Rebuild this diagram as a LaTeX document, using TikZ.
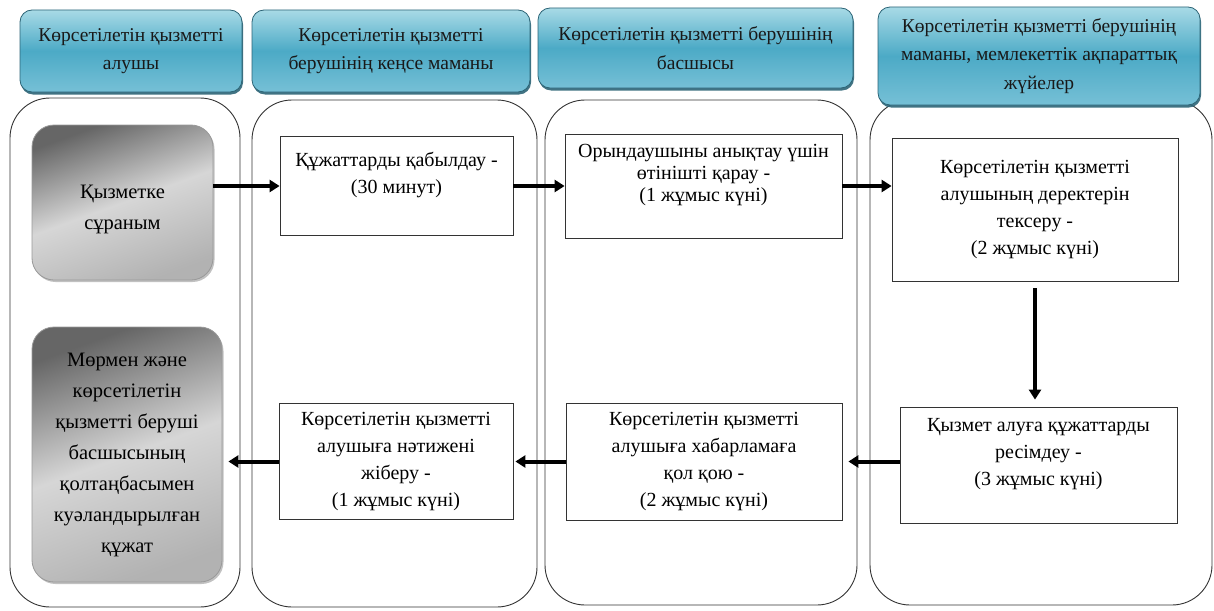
\documentclass[tikz,border=0pt]{standalone}
\usepackage{fontspec}
\setmainfont{Liberation Serif}
\usetikzlibrary{arrows.meta,shadows}

\definecolor{hdrlight}{RGB}{168,218,230}
\definecolor{hdrmid}{RGB}{76,170,198}
\definecolor{hdrlow}{RGB}{118,192,214}
\definecolor{hdrline}{RGB}{44,100,118}

\tikzset{
	lane/.style={draw=black!80, line width=0.9pt, rounded corners=40pt},
	header/.style={draw=hdrline, line width=0.8pt, rounded corners=12pt,
		top color=hdrlight, bottom color=hdrlow, middle color=hdrmid,
		drop shadow={shadow xshift=1pt, shadow yshift=-2.5pt, fill=hdrline, opacity=0.9},
		align=center, inner sep=0pt, text=black!90, font=\fontsize{19.5}{28.5}\selectfont},
	stepbox/.style={draw=black!80, line width=0.8pt, fill=white, align=center,
		inner sep=0pt, font=\fontsize{20}{27}\selectfont},
	graybox/.style={draw=black!40, line width=0.8pt, rounded corners=22pt,
		top color=black!60, bottom color=black!30, middle color=black!16, shading angle=20,
		drop shadow={shadow xshift=1.5pt, shadow yshift=-2pt, fill=black!30, opacity=0.8},
		align=center, inner sep=0pt, font=\fontsize{20.5}{31}\selectfont},
	flow/.style={line width=4pt, -{Triangle[length=10pt,width=12pt]}}
}

\begin{document}
\begin{tikzpicture}[x=1pt, y=-1pt]
	%%%%% START %%%%%
	\useasboundingbox (0,0) rectangle (1214,610);
	
	% swim lanes
	\draw[lane] (10,98) rectangle (240,607);
	\draw[lane] (252,100) rectangle (537,607);
	\draw[lane] (545,100) rectangle (857,605);
	\draw[lane] (870,100) rectangle (1212,605);
	
	% lane headers
	\node[header, minimum width=222pt, minimum height=82pt] (hdrA) at (131,51) {Көрсетілетін қызметті\\алушы};
	\node[header, minimum width=278pt, minimum height=82pt] (hdrB) at (391,51) {Көрсетілетін қызметті\\берушінің кеңсе маманы};
	\node[header, minimum width=315pt, minimum height=80pt] (hdrC) at (695.5,48) {Көрсетілетін қызметті берушінің\\басшысы};
	\node[header, minimum width=322pt, minimum height=98pt] (hdrD) at (1039,56) {Көрсетілетін қызметті берушінің\\маманы, мемлекеттік ақпараттық\\жүйелер};
	
	% steps
	\node[graybox, minimum width=181pt, minimum height=155pt] (req) at (122.5,202.5) {\rule{0pt}{27pt}Қызметке\\сұраным};
	\node[stepbox, minimum width=233pt, minimum height=99pt] (accept) at (396.5,186) {Құжаттарды қабылдау -\\(30 минут)\\~};
	\node[stepbox, minimum width=277pt, minimum height=104pt] (review) at (703.5,186) {Орындаушыны анықтау үшін\\[-5pt]өтінішті қарау -\\[-5pt](1 жұмыс күні)\\~};
	\node[stepbox, minimum width=286pt, minimum height=143pt] (check) at (1035,209.5) {Көрсетілетін қызметті\\алушының деректерін\\тексеру -\\(2 жұмыс күні)};
	\node[stepbox, minimum width=277pt, minimum height=116pt] (draft) at (1038.5,465) {Қызмет алуға құжаттарды\\ресімдеу -\\(3 жұмыс күні)\\~};
	\node[stepbox, minimum width=276pt, minimum height=117pt] (sign) at (704,461.5) {Көрсетілетін қызметті\\алушыға хабарламаға\\қол қою -\\(2 жұмыс күні)};
	\node[stepbox, minimum width=234pt, minimum height=116pt] (send) at (396,461.5) {Көрсетілетін қызметті\\алушыға нәтижені\\жіберу -\\(1 жұмыс күні)};
	\node[graybox, minimum width=190pt, minimum height=255pt] (result) at (127,454.5) {Мөрмен және\\көрсетілетін\\қызметті беруші\\басшысының\\қолтаңбасымен\\куәландырылған\\құжат};
	
	% arrows
	\draw[flow] (req.east |- accept.west) -- (accept.west);
	\draw[flow] (accept.east) -- (review.west);
	\draw[flow] (review.east) -- (review.east -| check.west);
	\draw[flow, shorten <=7pt, shorten >=7pt] (check.south) -- (check.south |- draft.north);
	\draw[flow, shorten >=6pt] (draft.west |- sign.east) -- (sign.east);
	\draw[flow, shorten >=2pt] (sign.west) -- (send.east);
	\draw[flow, shorten >=6pt] (send.west) -- (send.west -| result.east);
	
	%%%%% END %%%%%
\end{tikzpicture}
\end{document}
